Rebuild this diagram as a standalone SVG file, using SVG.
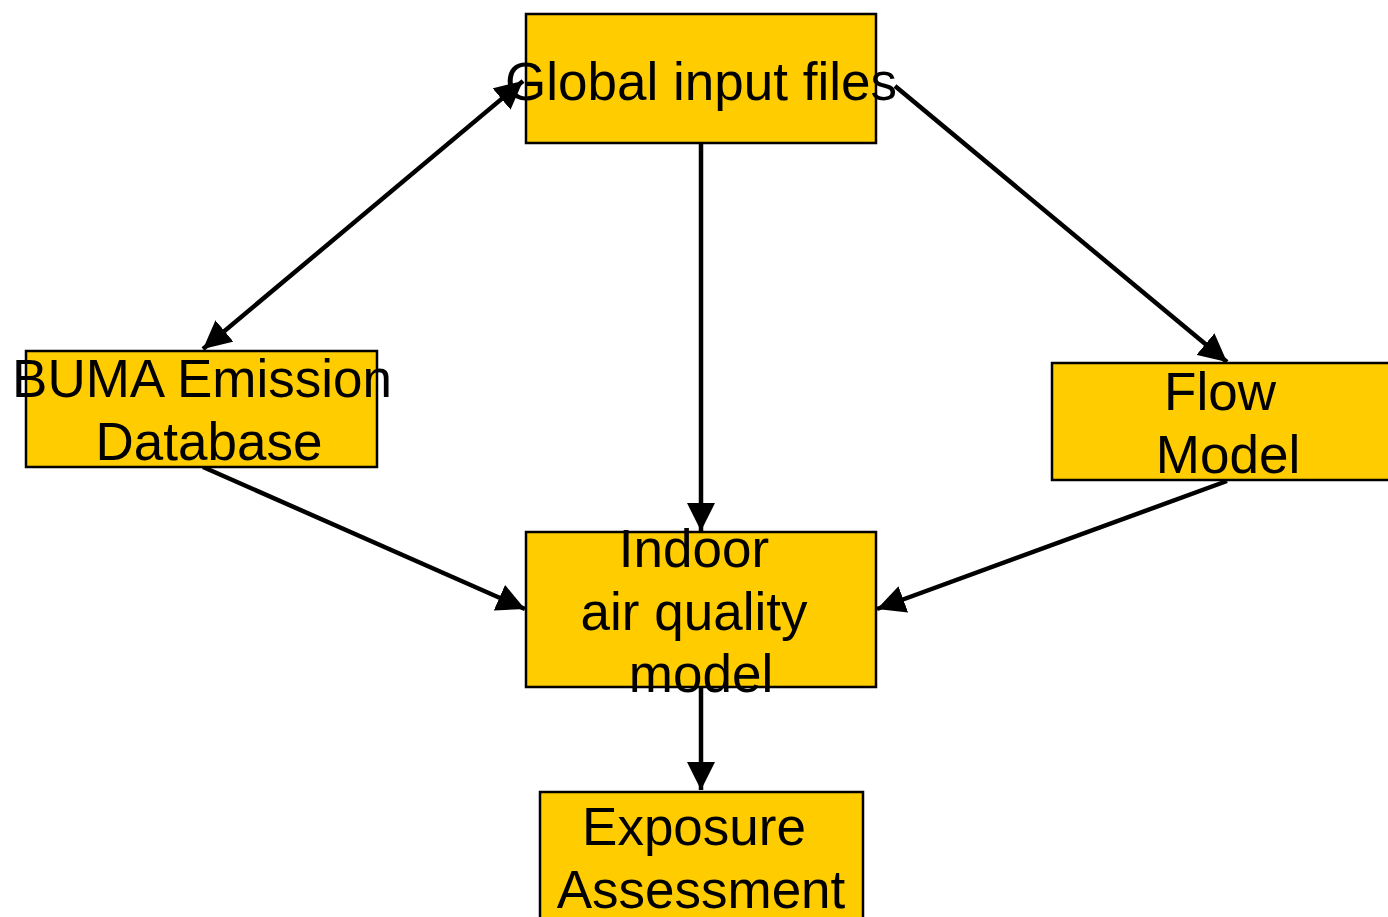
<svg xmlns="http://www.w3.org/2000/svg" width="1388" height="917" viewBox="0 0 1388 917">
  <style>
    .box { fill: #ffcc00; stroke: #000; stroke-width: 2.5; }
    .lbl { font-family: "Liberation Sans", Arial, sans-serif; font-size: 53px; fill: #000; text-anchor: middle; }
    .edge { stroke: #000; stroke-width: 4.5; fill: none; }
  </style>
  <defs>
    <marker id="arrow" markerUnits="userSpaceOnUse" markerWidth="30" markerHeight="28" refX="28" refY="14" orient="auto-start-reverse">
      <path d="M0,0 L28,14 L0,28 Z" fill="#000"/>
    </marker>
  </defs>
  <rect width="1388" height="917" fill="#fff"/>

  <g id="connectors">
    <line class="edge" x1="523" y1="81" x2="203" y2="349" marker-start="url(#arrow)" marker-end="url(#arrow)"/>
    <line class="edge" x1="701" y1="143" x2="701" y2="531" marker-end="url(#arrow)"/>
    <line class="edge" x1="895" y1="86" x2="1227" y2="362" marker-end="url(#arrow)"/>
    <line class="edge" x1="203" y1="467" x2="525" y2="609" marker-end="url(#arrow)"/>
    <line class="edge" x1="1227" y1="481" x2="877" y2="609" marker-end="url(#arrow)"/>
    <line class="edge" x1="701" y1="687" x2="701" y2="790" marker-end="url(#arrow)"/>
  </g>

  <g id="global-input">
    <rect class="box" x="526" y="14" width="350" height="129"/>
    <text class="lbl" x="701" y="100">Global input files</text>
  </g>

  <g id="buma-emission">
    <rect class="box" x="26" y="351" width="351" height="116"/>
    <text class="lbl" x="202" y="397">BUMA Emission</text>
    <text class="lbl" x="209" y="460">Database</text>
  </g>

  <g id="flow-model">
    <rect class="box" x="1052" y="363" width="340" height="117"/>
    <text class="lbl" x="1220" y="410">Flow</text>
    <text class="lbl" x="1228" y="473">Model</text>
  </g>

  <g id="indoor-air">
    <rect class="box" x="526" y="532" width="350" height="155"/>
    <text class="lbl" x="694" y="567">Indoor</text>
    <text class="lbl" x="694" y="630">air quality</text>
    <text class="lbl" x="701" y="692">model</text>
  </g>

  <g id="exposure">
    <rect class="box" x="540" y="792" width="323" height="140"/>
    <text class="lbl" x="694" y="845">Exposure</text>
    <text class="lbl" x="701" y="908">Assessment</text>
  </g>
</svg>
